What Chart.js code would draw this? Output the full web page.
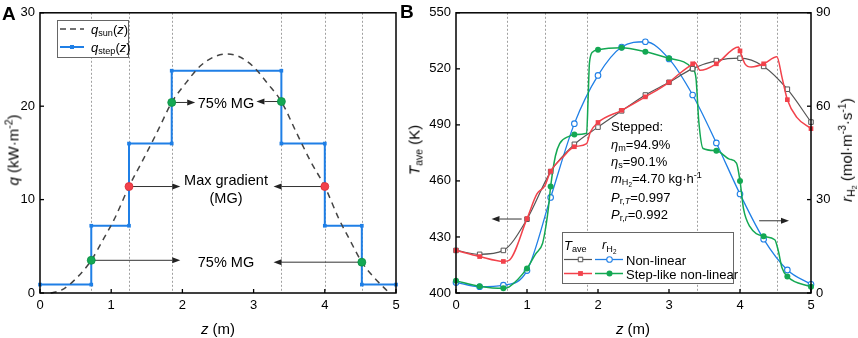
<!DOCTYPE html>
<html><head><meta charset="utf-8">
<script src="https://cdn.jsdelivr.net/npm/chart.js@4.4.1/dist/chart.umd.min.js"></script>
<style>
body{margin:0;background:#fff;}
#wrap{position:relative;width:858px;height:338px;overflow:hidden;font-family:"Liberation Sans",Arial,sans-serif;color:#000;background:#fff;}
canvas{position:absolute;top:0;}
.t{position:absolute;white-space:nowrap;line-height:1;z-index:2;}
.rot{transform:translate(-50%,-50%) rotate(-90deg);}
.c{transform:translate(-50%,-50%);}
.l{transform:translateY(-50%);}
sub,sup{font-size:70%;line-height:0;}
sub{vertical-align:-0.3em;} sup{vertical-align:0.55em;}
</style></head>
<body><div id="wrap">
<canvas id="ca" width="420" height="338" style="left:0;width:420px;height:338px"></canvas>
<canvas id="cb" width="438" height="338" style="left:420px;width:438px;height:338px"></canvas>

<div class="t" style="left:2px;top:4px;font-size:19px;font-weight:bold">A</div>
<div class="t" style="left:400px;top:2px;font-size:19px;font-weight:bold">B</div>

<div class="t rot" style="left:13px;top:150px;font-size:15px"><i>q</i> (kW·m<sup>-2</sup>)</div>
<div class="t c" style="left:218px;top:328px;font-size:15px"><i>z</i> (m)</div>
<div class="t c" style="left:633px;top:328px;font-size:15px"><i>z</i> (m)</div>
<div class="t rot" style="left:414px;top:150px;font-size:15px"><i>T</i><sub>ave</sub> (K)</div>
<div class="t rot" style="left:847px;top:150px;font-size:15px"><i>r</i><sub>H<sub>2</sub></sub> (mol·m<sup>-3</sup>·s<sup>-1</sup>)</div>

<div class="t l" style="left:91px;top:29px;font-size:13px"><i>q</i><sub>sun</sub>(<i>z</i>)</div>
<div class="t l" style="left:91px;top:47px;font-size:13px"><i>q</i><sub>step</sub>(<i>z</i>)</div>

<div class="t c" style="left:226px;top:103px;font-size:14.5px">75% MG</div>
<div class="t c" style="left:226px;top:180px;font-size:14.5px">Max gradient</div>
<div class="t c" style="left:226px;top:198px;font-size:14.5px">(MG)</div>
<div class="t c" style="left:226px;top:262px;font-size:14.5px">75% MG</div>

<div class="t l" style="left:611px;top:126px;font-size:13px">Stepped:</div>
<div class="t l" style="left:611px;top:143.5px;font-size:13px"><i>η</i><sub>m</sub>=94.9%</div>
<div class="t l" style="left:611px;top:161px;font-size:13px"><i>η</i><sub>s</sub>=90.1%</div>
<div class="t l" style="left:611px;top:178.5px;font-size:13px"><i>m</i><sub>H<sub>2</sub></sub>=4.70 kg·h<sup>-1</sup></div>
<div class="t l" style="left:611px;top:196.5px;font-size:13px"><i>P</i><sub>r,<i>T</i></sub>=0.997</div>
<div class="t l" style="left:611px;top:214px;font-size:13px"><i>P</i><sub>r,<i>r</i></sub>=0.992</div>

<div class="t l" style="left:564px;top:245px;font-size:13px"><i>T</i><sub>ave</sub></div>
<div class="t l" style="left:602px;top:245px;font-size:13px"><i>r</i><sub>H<sub>2</sub></sub></div>
<div class="t l" style="left:626px;top:259.5px;font-size:13px">Non-linear</div>
<div class="t l" style="left:626px;top:273.5px;font-size:13px">Step-like non-linear</div>
</div>
<script>
// ---------- data ----------
const zLines = [0.72, 1.25, 1.85, 3.39, 4.0, 4.52];

// Panel A
const zSun = [0.15,0.3,0.5,0.72,0.9,1.05,1.25,1.45,1.65,1.85,2.05,2.25,2.45,2.62,2.8,3.0,3.2,3.39,3.6,3.8,4.0,4.2,4.35,4.52,4.7,4.88];
const qSun = [0.0,0.3,1.5,3.5,5.9,8.0,11.4,14.3,17.3,20.4,22.5,24.3,25.3,25.6,25.3,24.2,22.4,20.5,17.2,14.1,11.4,7.9,5.7,3.3,1.6,0.2];
const zStep = [0,0.72,0.72,1.25,1.25,1.85,1.85,3.39,3.39,4.0,4.0,4.52,4.52,5];
const qStep = [0.9,0.9,7.2,7.2,16.0,16.0,23.8,23.8,16.0,16.0,7.2,7.2,0.9,0.9];
const z75 = [0.72, 1.85, 3.39, 4.52];
const q75 = [3.5, 20.4, 20.5, 3.3];
const zMG = [1.25, 4.0];
const qMG = [11.4, 11.4];

// Panel B
const zMarks = [0,0.333,0.667,1,1.333,1.667,2,2.333,2.667,3,3.333,3.667,4,4.333,4.667,5];
const tNonlin = [422.8,420.7,422.8,439.5,465.0,479.6,488.8,497.5,506.0,512.8,520.1,524.4,525.7,521.3,509.1,491.5];
const rNonlin = [3.4,2.0,2.5,7.2,30.7,54.4,69.9,79.0,80.7,75.2,63.6,48.2,31.8,17.3,7.4,2.8];
const zStepT = [0,0.333,0.667,0.74,1,1.14,1.25,1.333,1.5,1.667,1.84,1.89,2,2.333,2.667,3,3.15,3.333,3.36,3.44,3.667,3.98,4,4.07,4.16,4.333,4.52,4.59,4.667,4.8,5];
const tStep = [422.8,419.5,416.9,417.3,439.8,453.0,457.3,465.2,472.5,478.3,480.0,486.0,491.3,497.8,505.0,512.8,517.5,522.7,523.5,519.2,522.7,531.7,529.6,522.7,521.0,522.7,526.5,515.7,503.5,494.0,488.0];
const zStepR = [0,0.333,0.667,0.75,1,1.12,1.22,1.27,1.3,1.333,1.4,1.46,1.6,1.667,1.84,1.86,1.88,1.93,2,2.333,2.667,3,3.333,3.38,3.42,3.48,3.667,3.85,3.95,4,4.05,4.14,4.333,4.49,4.54,4.59,4.667,5];
const rStep = [3.9,2.2,1.5,2.0,7.9,12.5,16.0,22.0,27.0,34.2,44.0,48.0,50.4,50.9,51.3,62.0,74.0,77.5,78.1,78.8,77.5,75.4,72.0,69.0,55.0,46.4,45.7,43.0,41.7,36.0,27.0,21.3,18.2,17.1,13.5,8.2,5.3,2.0];

// ---------- styles ----------
const BLUE = '#1f7fe6', GREEN = '#14a853', RED = '#f2424b', GRAY = '#555555', DASH = '#444444';

function xy(xs, ys){ return xs.map((x,i)=>({x:x, y:ys[i]})); }
function marksOf(xs, ys){ const o=[]; xs.forEach((x,i)=>{ if(zMarks.some(m=>Math.abs(m-x)<1e-9)) o.push({x:x,y:ys[i]}); }); return o; }

Chart.defaults.font.family = '"Liberation Sans", Arial, sans-serif';
Chart.defaults.font.size = 13;
Chart.defaults.color = '#000';

function axis(min,max,step,extra){
  return Object.assign({type:'linear',min:min,max:max,
    ticks:{stepSize:step,padding:5,color:'#000',font:{size:13}},
    grid:{display:false,drawTicks:false},border:{display:false}}, extra);
}

function arrow(ctx,x1,y1,x2,y2){
  const dir = Math.sign(x2-x1), hl = 8, hw = 3;
  ctx.save(); ctx.strokeStyle='#333'; ctx.fillStyle='#222'; ctx.lineWidth=1;
  ctx.beginPath(); ctx.moveTo(x1,y1); ctx.lineTo(x2-dir*hl,y2); ctx.stroke();
  ctx.beginPath(); ctx.moveTo(x2,y2); ctx.lineTo(x2-dir*hl,y2-hw); ctx.lineTo(x2-dir*hl,y2+hw); ctx.closePath(); ctx.fill();
  ctx.restore();
}

function decor(cfg){
  return {
    id:'decor',
    beforeDatasetsDraw(chart){
      const ctx=chart.ctx, a=chart.chartArea, x=chart.scales.x;
      ctx.save(); ctx.strokeStyle='#a0a0a0'; ctx.lineWidth=1; ctx.setLineDash([2,2]);
      zLines.forEach(z=>{ const px=Math.round(x.getPixelForValue(z))+0.5;
        ctx.beginPath(); ctx.moveTo(px,a.top); ctx.lineTo(px,a.bottom); ctx.stroke(); });
      ctx.restore();
      cfg.arrows.forEach(ar=>{ const ys=chart.scales[ar.axis];
        arrow(ctx, x.getPixelForValue(ar.x1), ys.getPixelForValue(ar.y), x.getPixelForValue(ar.x2), ys.getPixelForValue(ar.y)); });
    },
    afterDatasetsDraw(chart){
      const ctx=chart.ctx, a=chart.chartArea;
      ctx.save(); ctx.strokeStyle='#000'; ctx.lineWidth=1.5; ctx.setLineDash([]);
      ctx.strokeRect(a.left,a.top,a.width,a.height);
      ctx.lineWidth=1.3;
      Object.values(chart.scales).forEach(s=>{
        s.ticks.forEach(t=>{
          const p=s.getPixelForValue(t.value); ctx.beginPath();
          if(s.id==='x'){ ctx.moveTo(p,a.bottom); ctx.lineTo(p,a.bottom-4); }
          else if(s.id==='y'){ ctx.moveTo(a.left,p); ctx.lineTo(a.left+4,p); }
          else { ctx.moveTo(a.right,p); ctx.lineTo(a.right-4,p); }
          ctx.stroke();
        });
      });
      ctx.restore();
      if(cfg.legend) cfg.legend(ctx);
    }
  };
}

function sq(ctx,x,y,s,fill,stroke){ ctx.beginPath(); ctx.rect(x-s/2,y-s/2,s,s); ctx.fillStyle=fill; ctx.fill(); if(stroke){ctx.strokeStyle=stroke; ctx.lineWidth=1; ctx.stroke();} }
function ci(ctx,x,y,r,fill,stroke){ ctx.beginPath(); ctx.arc(x,y,r,0,Math.PI*2); ctx.fillStyle=fill; ctx.fill(); if(stroke){ctx.strokeStyle=stroke; ctx.lineWidth=1.1; ctx.stroke();} }
function seg(ctx,x1,x2,y,col,w,dash){ ctx.save(); ctx.strokeStyle=col; ctx.lineWidth=w; ctx.setLineDash(dash||[]); ctx.beginPath(); ctx.moveTo(x1,y); ctx.lineTo(x2,y); ctx.stroke(); ctx.restore(); }

function legendA(ctx){
  ctx.save();
  ctx.fillStyle='#fff'; ctx.fillRect(57.5,20.5,71,37);
  ctx.strokeStyle='#666'; ctx.lineWidth=1; ctx.strokeRect(57.5,20.5,71,37);
  seg(ctx,60,84,29,DASH,1.5,[6,4]);
  seg(ctx,60,84,47,BLUE,2);
  sq(ctx,72,47,4,BLUE);
  ctx.restore();
}
function legendB(ctx){
  ctx.save();
  ctx.fillStyle='#fff'; ctx.fillRect(142.5,232.5,171,51);
  ctx.strokeStyle='#666'; ctx.lineWidth=1; ctx.strokeRect(142.5,232.5,171,51);
  seg(ctx,144,172,259.5,GRAY,1.2); sq(ctx,160.5,259.5,4.5,'#fff',GRAY);
  seg(ctx,175,203,259.5,BLUE,1.3); ci(ctx,189.5,259.5,2.8,'#fff',BLUE);
  seg(ctx,144,172,273.5,RED,1.5); sq(ctx,160.5,273.5,4.8,RED);
  seg(ctx,175,203,273.5,GREEN,1.5); ci(ctx,189.5,273.5,3,GREEN);
  ctx.restore();
}

const common = {responsive:false, animation:false, devicePixelRatio:1, events:[],
  plugins:{legend:{display:false}, tooltip:{enabled:false}}};

// ---------- Panel A ----------
new Chart(document.getElementById('ca'), {
  type:'line',
  data:{datasets:[
    {data:xy(zSun,qSun), borderColor:DASH, borderWidth:1.5, borderDash:[6,5], pointRadius:0, cubicInterpolationMode:'monotone', order:2, clip:false},
    {data:xy(zStep,qStep), borderColor:BLUE, borderWidth:2, pointStyle:'rect', pointRadius:2.6, pointBackgroundColor:BLUE, pointBorderColor:BLUE, pointBorderWidth:0, tension:0, order:3, clip:false},
    {data:xy(z75,q75), showLine:false, pointRadius:4, pointBackgroundColor:GREEN, pointBorderColor:'#0b8f45', pointBorderWidth:0.8, order:0, clip:false},
    {data:xy(zMG,qMG), showLine:false, pointRadius:4, pointBackgroundColor:RED, pointBorderColor:'#d8303a', pointBorderWidth:0.8, order:0, clip:false}
  ]},
  options:Object.assign({}, common, {
    layout:{padding:{top:8,right:24,left:0,bottom:0}},
    scales:{
      x: axis(0,5,1,{afterFit:s=>{s.height=45;}}),
      y: axis(0,30,10,{afterFit:s=>{s.width=40;}})
    }
  }),
  plugins:[decor({
    arrows:[
      {axis:'y',x1:1.85,x2:2.18,y:20.4},{axis:'y',x1:3.39,x2:3.04,y:20.5},
      {axis:'y',x1:1.25,x2:1.97,y:11.4},{axis:'y',x1:4.0,x2:3.28,y:11.4},
      {axis:'y',x1:0.72,x2:1.97,y:3.5},{axis:'y',x1:4.52,x2:3.28,y:3.3}
    ],
    legend:legendA
  })]
});

// ---------- Panel B ----------
new Chart(document.getElementById('cb'), {
  type:'line',
  data:{datasets:[
    {data:xy(zStepT,tStep), yAxisID:'y', borderColor:RED, borderWidth:1.5, pointRadius:0, cubicInterpolationMode:'monotone', order:0, clip:false},
    {data:marksOf(zStepT,tStep), yAxisID:'y', showLine:false, pointStyle:'rect', pointRadius:3.3, pointBackgroundColor:RED, pointBorderColor:RED, pointBorderWidth:0, order:0, clip:false},
    {data:xy(zMarks,tNonlin), yAxisID:'y', borderColor:GRAY, borderWidth:1.2, pointStyle:'rect', pointRadius:3.2, pointBackgroundColor:'#fff', pointBorderColor:GRAY, pointBorderWidth:1, cubicInterpolationMode:'monotone', order:1, clip:false},
    {data:xy(zStepR,rStep), yAxisID:'y2', borderColor:GREEN, borderWidth:1.5, pointRadius:0, cubicInterpolationMode:'monotone', order:2, clip:false},
    {data:marksOf(zStepR,rStep), yAxisID:'y2', showLine:false, pointRadius:3, pointBackgroundColor:GREEN, pointBorderColor:GREEN, pointBorderWidth:0, order:2, clip:false},
    {data:xy(zMarks,rNonlin), yAxisID:'y2', borderColor:BLUE, borderWidth:1.3, pointRadius:2.8, pointBackgroundColor:'#fff', pointBorderColor:BLUE, pointBorderWidth:1.1, cubicInterpolationMode:'monotone', order:3, clip:false}
  ]},
  options:Object.assign({}, common, {
    layout:{padding:{top:6,right:0,left:0,bottom:0}},
    scales:{
      x: axis(0,5,1,{afterFit:s=>{s.height=45;}}),
      y: axis(400,550,30,{position:'left', afterFit:s=>{s.width=36;}}),
      y2: axis(0,90,30,{position:'right', afterFit:s=>{s.width=47;}})
    }
  }),
  plugins:[decor({
    arrows:[{axis:'y',x1:0.925,x2:0.50,y:439.6},{axis:'y2',x1:4.27,x2:4.69,y:23.2}],
    legend:legendB
  })]
});
</script>
</body></html>
